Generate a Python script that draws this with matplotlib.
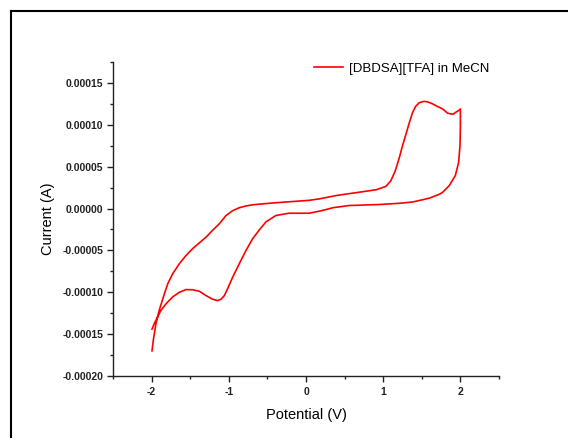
import matplotlib
matplotlib.use("Agg")
import matplotlib.pyplot as plt
from matplotlib.lines import Line2D
from matplotlib.ticker import MultipleLocator, FixedLocator

plt.rcParams['font.family'] = ['Liberation Sans', 'DejaVu Sans']

# Cyclic voltammogram: forward (upper) branch then return (lower) branch
potential = [-1.995, -1.978, -1.943, -1.90, -1.835, -1.79, -1.728, -1.64, -1.554, -1.47,
             -1.382, -1.295, -1.210, -1.123, -1.036, -0.95, -0.864, -0.78, -0.69, -0.45,
             -0.26, 0.04, 0.17, 0.39, 0.56, 0.69, 0.91, 1.036, 1.10, 1.157, 1.21, 1.25,
             1.295, 1.34, 1.38, 1.42, 1.468, 1.53, 1.575, 1.64, 1.705, 1.77, 1.834, 1.88,
             1.908, 1.94, 1.986, 2.0,
             2.0, 1.995, 1.977, 1.934, 1.856, 1.77, 1.727, 1.60, 1.51, 1.38, 1.21, 0.95,
             0.56, 0.35, 0.21, 0.04, -0.22, -0.39, -0.52, -0.60, -0.692, -0.777, -0.864,
             -0.95, -1.015, -1.058, -1.101, -1.145, -1.21, -1.295, -1.382, -1.47, -1.554,
             -1.64, -1.728, -1.81, -1.878, -1.92, -1.965, -1.995]
current = [-0.000170, -0.000157, -0.000137, -0.000121, -0.000102, -0.0000896, -0.000078,
           -0.0000658, -0.000056, -0.000048, -0.000041, -0.0000342, -0.000026, -0.0000182,
           -0.0000083, -0.0000025, 0.000001, 0.000003, 0.0000045, 0.0000065, 0.0000078,
           0.0000098, 0.0000115, 0.0000155, 0.0000178, 0.0000195, 0.0000225, 0.0000265,
           0.0000333, 0.0000452, 0.0000611, 0.000075, 0.0000889, 0.000103, 0.0001146,
           0.000122, 0.0001265, 0.000128, 0.0001274, 0.000125, 0.0001218, 0.000119,
           0.0001139, 0.000113, 0.0001127, 0.000115, 0.0001175, 0.000119,
           0.0000988, 0.000075, 0.0000551, 0.0000393, 0.0000274, 0.0000194, 0.0000170,
           0.0000125, 0.0000105, 0.0000078, 0.0000063, 0.0000048, 0.0000036, 0.000001,
           -0.0000024, -0.0000056, -0.0000056, -0.0000083, -0.000016, -0.000025,
           -0.0000361, -0.000050, -0.0000658, -0.000082, -0.0000956, -0.000104,
           -0.0001083, -0.000110, -0.0001083, -0.000104, -0.0000988, -0.000097,
           -0.0000968, -0.000100, -0.0001056, -0.0001135, -0.0001214, -0.000129,
           -0.0001373, -0.000144]

series_label = "[DBDSA][TFA] in MeCN"
x_label = "Potential (V)"
y_label = "Current (A)"
x_ticks = [-2, -1, 0, 1, 2]
y_ticks = [-0.00020, -0.00015, -0.00010, -0.00005, 0.00000, 0.00005, 0.00010, 0.00015]
y_tick_labels = ["-0.00020", "-0.00015", "-0.00010", "-0.00005", "0.00000",
                 "0.00005", "0.00010", "0.00015"]

fig = plt.figure(figsize=(5.68, 4.38), dpi=100)
ax = fig.add_axes([0.199, 0.1416, 0.6795, 0.7168])

ax.plot(potential, current, color='#ff0000', lw=1.2, label=series_label,
        solid_joinstyle='round')

ax.set_xlim(-2.5, 2.5)
ax.set_ylim(-0.0002, 0.000175)

ax.spines['top'].set_visible(False)
ax.spines['right'].set_visible(False)
for s in ('left', 'bottom'):
    ax.spines[s].set_linewidth(1.0)
    ax.spines[s].set_color('#222222')

ax.xaxis.set_major_locator(FixedLocator(x_ticks))
ax.xaxis.set_minor_locator(MultipleLocator(0.5))
ax.set_xticklabels([str(t) for t in x_ticks], fontsize=7.5, fontweight='bold')
ax.yaxis.set_major_locator(FixedLocator(y_ticks))
ax.yaxis.set_minor_locator(MultipleLocator(0.000025))
ax.set_yticklabels(y_tick_labels, fontsize=7.5, fontweight='bold')
ax.tick_params(which='major', direction='out', length=4.5, width=1.0, pad=2.5, colors='#222222')
ax.tick_params(which='minor', direction='out', length=2.5, width=1.0, colors='#222222')
ax.tick_params(axis='x', which='major', pad=3.5)

ax.set_xlabel(x_label, fontsize=10.5, labelpad=8)
ax.set_ylabel(y_label, fontsize=10.5, labelpad=5)

leg = ax.legend(loc='center left', bbox_to_anchor=(314 / 568, 1 - 69 / 438),
                bbox_transform=fig.transFigure, frameon=False, fontsize=9.5,
                handlelength=2.2, handletextpad=0.45, borderpad=0, borderaxespad=0)

# outer frame of the original figure
fig.add_artist(Line2D([11 / 568, 1.0], [1 - 11 / 438, 1 - 11 / 438],
                      transform=fig.transFigure, color='black', lw=1.5))
fig.add_artist(Line2D([11 / 568, 11 / 568], [0.0, 1 - 11 / 438],
                      transform=fig.transFigure, color='black', lw=1.5))

fig.savefig("out.png", dpi=100)
